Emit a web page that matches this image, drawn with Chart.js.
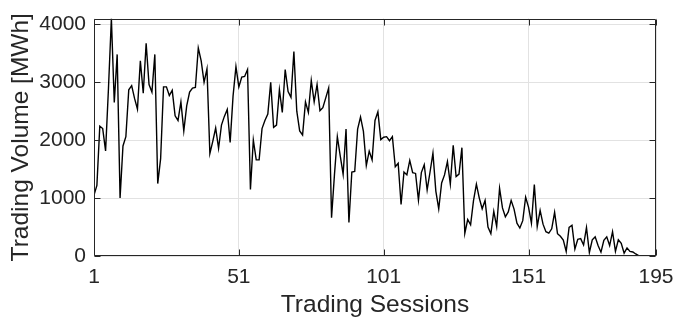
<!DOCTYPE html>
<html>
<head>
<meta charset="utf-8">
<script src="https://cdn.jsdelivr.net/npm/chart.js@4.4.1/dist/chart.umd.min.js"></script>
<style>
  html, body { margin: 0; padding: 0; background: #ffffff; }
  #wrap { width: 700px; height: 323px; }
</style>
</head>
<body>
<div id="wrap"><canvas id="c" width="700" height="323"></canvas></div>
<script>
// Traded volume per trading session [MWh]
const volume = [
  1050, 1220, 2240, 2200, 1815, 2900, 4100, 2650, 3480, 1000,
  1900, 2060, 2870, 2940, 2720, 2535, 3370, 2810, 3670, 2960,
  2830, 3480, 1250, 1680, 2920, 2920, 2770, 2860, 2420, 2340,
  2660, 2160, 2590, 2830, 2900, 2910, 3590, 3370, 3000, 3230,
  1770, 1980, 2210, 1860, 2260, 2410, 2530, 1960, 2760, 3270,
  2920, 3090, 3100, 3220, 1150, 2000, 1660, 1660, 2200, 2340,
  2450, 3000, 2220, 2260, 2870, 2480, 3220, 2840, 2740, 3530,
  2500, 2160, 2090, 2660, 2480, 3030, 2660, 2960, 2510, 2560,
  2730, 2900,  660, 1400, 2060, 1730, 1410, 2190,  580, 1450,
  1460, 2190, 2400, 2150, 1560, 1810, 1660, 2340, 2490, 2010,
  2050, 2060, 1990, 2060, 1540, 1600,  890, 1450, 1400, 1650,
  1440, 1425,  965, 1440, 1575, 1140, 1450, 1775, 1120,  815,
  1260, 1400, 1630, 1240, 1910, 1370, 1415, 1870,  390,  630,
   540,  955, 1240, 1000,  815,  960,  500,  385,  770,  510,
  1170,  830,  677,  760,  960,  810,  566,  483,  610, 1015,
   844,  566, 1235,  510,  788,  550,  420,  395,  470,  755,
   385,  340,  275,   80,  495,  530,  120,  288,  300,  190,
   490,   60,  280,  330,  180,   66,  270,  330,  180,  420,
    80,  280,  220,   50,  140,   80,   70,   35,    5,    0,
     0,    0,    0,    0,    0
];
// Session numbers (1-based index of each entry above)
const sessions = volume.map((_, i) => i + 1);

const xTicks = [1, 51, 101, 151, 195];
const yTicks = [0, 1000, 2000, 3000, 4000];
const xRange = [1, 195];
const yRange = [0, 4100];

const xTitle = 'Trading Sessions';
const yTitle = 'Trading Volume [MWh]';

const points = sessions.map((s, i) => ({ x: s, y: volume[i] }));

const FONT = "'Liberation Sans', Arial, Helvetica, sans-serif";
const INK = '#262626';
const GRID = '#e2e2e2';

// Axes box with inward tick marks on all four sides
const boxPlugin = {
  id: 'axesBox',
  afterDatasetsDraw(chart) {
    const { ctx, chartArea: a, scales: { x, y } } = chart;
    const L = Math.round(a.left) + 0.5, R = Math.round(a.right) - 0.5;
    const T = Math.round(a.top) + 0.5, B = Math.round(a.bottom) - 0.5;
    const len = 6;
    ctx.save();
    ctx.strokeStyle = INK;
    ctx.lineWidth = 1;
    ctx.beginPath();
    ctx.rect(L, T, R - L, B - T);
    xTicks.forEach(v => {
      const px = Math.round(x.getPixelForValue(v)) + 0.5;
      ctx.moveTo(px, B); ctx.lineTo(px, B - len);
      ctx.moveTo(px, T); ctx.lineTo(px, T + len);
    });
    yTicks.forEach(v => {
      const py = Math.round(y.getPixelForValue(v)) + 0.5;
      ctx.moveTo(L, py); ctx.lineTo(L + len, py);
      ctx.moveTo(R, py); ctx.lineTo(R - len, py);
    });
    ctx.stroke();
    ctx.restore();
  }
};

new Chart(document.getElementById('c'), {
  type: 'line',
  data: {
    datasets: [{
      data: points,
      borderColor: '#000000',
      borderWidth: 1.4,
      pointRadius: 0,
      tension: 0,
      fill: false
    }]
  },
  options: {
    responsive: false,
    animation: false,
    devicePixelRatio: 1,
    layout: { padding: { left: 0, top: 10, right: 44, bottom: 0 } },
    plugins: { legend: { display: false }, tooltip: { enabled: false } },
    scales: {
      x: {
        type: 'linear',
        min: xRange[0],
        max: xRange[1],
        afterBuildTicks: s => { s.ticks = xTicks.map(v => ({ value: v })); },
        afterFit: s => { s.height = 67; },
        grid: { color: GRID, lineWidth: 1, drawTicks: false },
        border: { display: false },
        ticks: {
          color: INK,
          padding: 11,
          maxRotation: 0,
          autoSkip: false,
          font: { family: FONT, size: 21, lineHeight: 1 },
          callback: v => String(v)
        },
        title: {
          display: true,
          text: xTitle,
          color: INK,
          padding: { top: 0, bottom: 6 },
          font: { family: FONT, size: 24.5, lineHeight: 1 }
        }
      },
      y: {
        type: 'linear',
        min: yRange[0],
        max: yRange[1],
        afterBuildTicks: s => { s.ticks = yTicks.map(v => ({ value: v })); },
        afterFit: s => { s.width = 94; },
        grid: { color: GRID, lineWidth: 1, drawTicks: false },
        border: { display: false },
        ticks: {
          color: INK,
          padding: 8,
          font: { family: FONT, size: 21, lineHeight: 1 },
          callback: v => String(v)
        },
        title: {
          display: true,
          text: yTitle,
          color: INK,
          padding: { top: 9, bottom: 0 },
          font: { family: FONT, size: 24.5, lineHeight: 1 }
        }
      }
    }
  },
  plugins: [boxPlugin]
});
</script>
</body>
</html>
